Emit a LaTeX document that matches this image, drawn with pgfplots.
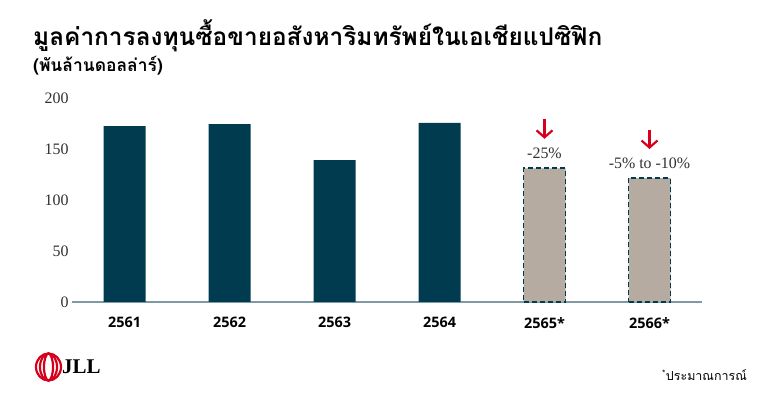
\documentclass[border=0pt]{standalone}
\usepackage{fontspec}
\setmainfont{Liberation Serif}
\newfontfamily\thaifont[Script=Thai]{Loma}
\newfontfamily\labfont{Open Sans}
\usepackage{pgfplots}
\pgfplotsset{compat=1.18}
\usetikzlibrary{arrows.meta}
\definecolor{jteal}{HTML}{003B4F}
\definecolor{jtaupe}{HTML}{B5ABA0}
\definecolor{axgray}{HTML}{7E9AA4}
\definecolor{txtgray}{HTML}{303030}
\definecolor{jred}{HTML}{D6001C}
\begin{document}
\begin{tikzpicture}
\path[use as bounding box] (0,0) rectangle (780bp,408bp);
\node[anchor=base west, inner sep=0] at (33bp,362bp) {\thaifont\bfseries\fontsize{24.5}{28}\selectfont มูลค่าการลงทุนซื้อขายอสังหาริมทรัพย์ในเอเชียแปซิฟิก};
\node[anchor=base west, inner sep=0] at (33bp,336bp) {\thaifont\bfseries\fontsize{17.5}{20}\selectfont (พันล้านดอลล่าร์)};
\begin{axis}[
  at={(72bp,106bp)}, anchor=south west, scale only axis,
  width=630bp, height=204bp,
  xmin=-0.5, xmax=5.5, ymin=0, ymax=200,
  axis x line=bottom, axis y line=left,
  y axis line style={draw=none},
  x axis line style={draw=axgray, line width=1.2pt, -},
  major tick length=0pt,
  ytick={0,50,100,150,200},
  xtick={0,1,2,3,4,5},
  xticklabels={2561,2562,2563,2564,2565*,2566*},
  /pgf/number format/assume math mode=true,
  yticklabel style={font=\fontsize{16}{18}\selectfont, text=txtgray},
  xticklabel style={font=\labfont\bfseries\fontsize{14.5}{16}\selectfont, text=black, yshift=-12bp},
  clip=false,
]
\addplot[ybar, bar width=42bp, bar shift=0pt, fill=jteal, draw=none] coordinates {(0,172.5)(1,174.5)(2,139)(3,175.5)};
\addplot[ybar, bar width=42bp, bar shift=0pt, fill=jtaupe, draw=jteal, dash pattern=on 5bp off 3bp, line width=1.8pt] coordinates {(4,131)(5,121.5)};
\draw[jred, line width=2.2bp, -{Straight Barb[length=7bp,width=16bp]}] (axis cs:4,179) -- (axis cs:4,160);
\draw[jred, line width=2.2bp, -{Straight Barb[length=7bp,width=16bp]}] (axis cs:5,169) -- (axis cs:5,150);
\node[text=txtgray, font=\fontsize{16}{18}\selectfont] at (axis cs:4,146) {-25\%};
\node[text=txtgray, font=\fontsize{16}{18}\selectfont] at (axis cs:5,136) {-5\% to -10\%};
\end{axis}
% JLL logo
\foreach \rx in {12.5,8.5,4.5}{
  \draw[jred, line width=2.2bp] (48.5bp,41bp) ellipse ({\rx bp} and 13.5bp);
}
\node[anchor=west, inner sep=0, font=\bfseries\fontsize{21}{24}\selectfont] at (62bp,41bp) {JLL};
\node[anchor=east, inner sep=0] at (747bp,33bp) {\thaifont\fontsize{12.5}{14}\selectfont \textsuperscript{*}ประมาณการณ์};
\end{tikzpicture}
\end{document}
